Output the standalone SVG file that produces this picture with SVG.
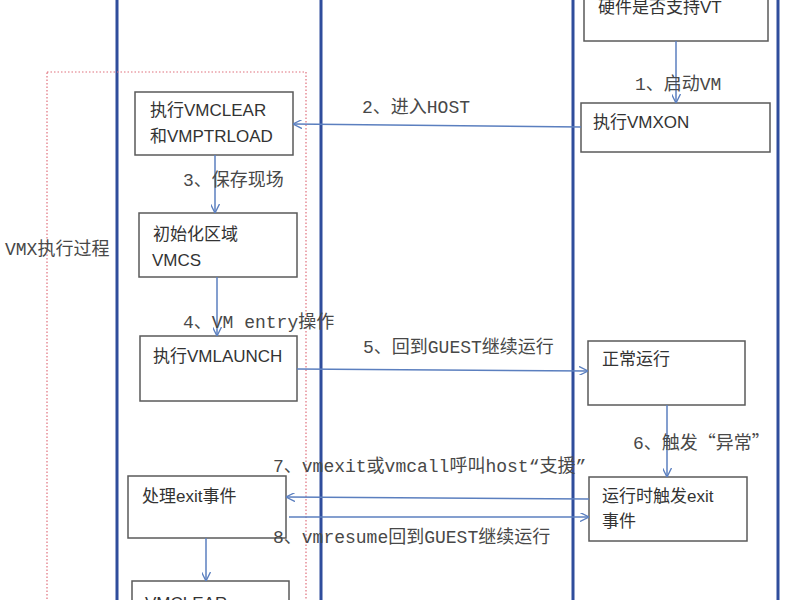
<svg xmlns="http://www.w3.org/2000/svg" width="800" height="600" viewBox="0 0 800 600">
<defs>
<style>
.lane{stroke:#2f4d9c;stroke-width:3;fill:none}
.box{fill:#ffffff;stroke:#5a5a5a;stroke-width:1.5}
.bt{font-family:"Liberation Sans","Noto Sans CJK SC",sans-serif;font-size:17px;fill:#333333}
.lb{font-family:"Liberation Mono","Noto Sans CJK SC",monospace;font-size:18px;fill:#484848}
.cjk{font-family:"Noto Sans CJK SC",sans-serif}
.con{stroke:#5b7fbf;stroke-width:1.5;fill:none}
.frame{fill:none;stroke:#e0707c;stroke-width:1.2;stroke-dasharray:1.5 2}
</style>
<marker id="arr" viewBox="0 0 10 10" refX="10" refY="5" markerWidth="9" markerHeight="9" markerUnits="userSpaceOnUse" orient="auto">
<path d="M0,0 L10,5 L0,10" fill="none" stroke="#5b7fbf" stroke-width="1.5"/>
</marker>
</defs>
<rect width="800" height="600" fill="#ffffff"/>
<g id="lanes">
<line class="lane" x1="117" y1="0" x2="117" y2="600"/>
<line class="lane" x1="321" y1="0" x2="321" y2="600"/>
<line class="lane" x1="573" y1="0" x2="573" y2="600"/>
<line class="lane" x1="778" y1="0" x2="778" y2="600"/>
</g>
<g id="vmx-frame">
<rect class="frame" x="47" y="72" width="259" height="540"/>
<text class="lb" x="5" y="255">VMX执行过程</text>
</g>
<g id="n-vt">
<rect class="box" x="584" y="-10" width="184" height="51"/>
<text class="bt" x="598" y="13">硬件是否支持VT</text>
</g>
<g id="n-vmxon">
<rect class="box" x="581" y="103" width="189" height="49"/>
<text class="bt" x="593" y="128">执行VMXON</text>
</g>
<g id="n-vmclear">
<rect class="box" x="135" y="92" width="158" height="63"/>
<text class="bt" x="150" y="116">执行VMCLEAR</text>
<text class="bt" x="150" y="142">和VMPTRLOAD</text>
</g>
<g id="n-vmcs">
<rect class="box" x="139" y="213" width="158" height="64"/>
<text class="bt" x="153" y="240">初始化区域</text>
<text class="bt" x="152" y="266">VMCS</text>
</g>
<g id="n-vmlaunch">
<rect class="box" x="140" y="336" width="157" height="65"/>
<text class="bt" x="153" y="362">执行VMLAUNCH</text>
</g>
<g id="n-normal">
<rect class="box" x="588" y="341" width="157" height="64"/>
<text class="bt" x="602" y="365">正常运行</text>
</g>
<g id="n-exitevent">
<rect class="box" x="589" y="477" width="158" height="64"/>
<text class="bt" x="602" y="502">运行时触发exit</text>
<text class="bt" x="602" y="527">事件</text>
</g>
<g id="n-handle">
<rect class="box" x="128" y="476" width="158" height="62"/>
<text class="bt" x="142" y="502">处理exit事件</text>
</g>
<g id="n-vmclear2">
<rect class="box" x="132" y="581" width="157" height="40"/>
<text class="bt" x="145" y="609">VMCLEAR</text>
</g>
<g id="connectors">
<line class="con" x1="676" y1="41" x2="676" y2="103" marker-end="url(#arr)"/>
<line class="con" x1="581" y1="127" x2="293" y2="124" marker-end="url(#arr)"/>
<line class="con" x1="215" y1="155" x2="215" y2="213" marker-end="url(#arr)"/>
<line class="con" x1="217" y1="277" x2="217" y2="336" marker-end="url(#arr)"/>
<line class="con" x1="297" y1="369" x2="588" y2="371" marker-end="url(#arr)"/>
<line class="con" x1="667" y1="405" x2="667" y2="477" marker-end="url(#arr)"/>
<line class="con" x1="589" y1="499" x2="286" y2="497" marker-end="url(#arr)"/>
<line class="con" x1="289" y1="517" x2="589" y2="517" marker-end="url(#arr)"/>
<line class="con" x1="206" y1="538" x2="206" y2="581" marker-end="url(#arr)"/>
<text class="lb" x="635" y="90">1、启动VM</text>
<text class="lb" x="362" y="113">2、进入HOST</text>
<text class="lb" x="183" y="186">3、保存现场</text>
<text class="lb" x="183" y="328">4、VM entry操作</text>
<text class="lb" x="363" y="353">5、回到GUEST继续运行</text>
<text class="lb" x="633" y="449">6、触发<tspan class="cjk">“</tspan>异常<tspan class="cjk">”</tspan></text>
<text class="lb" x="273" y="472">7、vmexit或vmcall呼叫host“支援”</text>
<text class="lb" x="273" y="543">8、vmresume回到GUEST继续运行</text>
</g>
</svg>
